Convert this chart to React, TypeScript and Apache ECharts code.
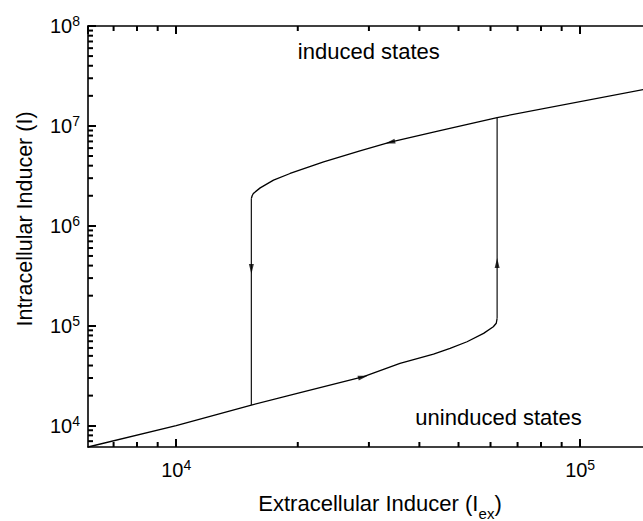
import React, { useEffect, useRef } from "react";
import * as echarts from "echarts";

// Axis extents
const X_MIN = 6050;
const X_MAX = 160000;
const Y_MIN = 6120;
const Y_MAX = 1e8;

// Lower (uninduced) branch: extracellular inducer vs intracellular inducer
const lowerIex = [6050, 10000, 15350, 20277, 29107, 35809, 43351, 47643, 52481, 57677, 60954, 62000, 62300];
const lowerI = [6120, 10000, 16106, 21429, 30903, 42073, 52119, 59429, 69183, 83946, 97724, 106000, 118577];

// Upper (induced) branch
const upperIex = [15350, 15420, 15524, 16144, 17418, 19143, 23174, 28510, 33884, 44978, 62300, 143219, 160000];
const upperI = [1879000, 2000000, 2109000, 2399000, 2864000, 3342000, 4365000, 5623000, 6871000, 8970000, 12130000, 23120000, 25200000];

// Jumps
const jumpDownIex = [15350, 15350];
const jumpDownI = [1879000, 16106];
const jumpUpIex = [62300, 62300];
const jumpUpI = [118577, 12130000];

// Direction arrows: position and rotation (deg)
const arrowIex = [29000, 33870, 15350, 62300];
const arrowI = [30800, 6850000, 369000, 424000];
const arrowRot = [-75.7, 103.7, 180, 0];

// Minor ticks
const xMinorTicks = [7000, 8000, 9000, 20000, 30000, 40000, 50000, 60000, 70000, 80000, 90000];
const yMinorTicks = [
  7000, 8000, 9000,
  20000, 30000, 40000, 50000, 60000, 70000, 80000, 90000,
  200000, 300000, 400000, 500000, 600000, 700000, 800000, 900000,
  2000000, 3000000, 4000000, 5000000, 6000000, 7000000, 8000000, 9000000,
  20000000, 30000000, 40000000, 50000000, 60000000, 70000000, 80000000, 90000000,
];

const FONT = "Liberation Sans, Arial, sans-serif";

function zip(a: number[], b: number[]) {
  return a.map((v, i) => [v, b[i]]);
}

function isPow10(v: number) {
  const l = Math.log10(v);
  return Math.abs(l - Math.round(l)) < 1e-6;
}

const supLabel = (v: number) => (isPow10(v) ? "10{sup|" + Math.round(Math.log10(v)) + "}" : "");

const labelRich = {
  sup: { fontSize: 14, lineHeight: 14, verticalAlign: "top", fontFamily: FONT, color: "#000" },
};

const textGraphics = [
  {
    type: "text",
    x: 368.8,
    y: 51.7,
    style: { text: "induced states", fontSize: 22, fontFamily: FONT, fill: "#000", align: "center", verticalAlign: "middle" },
  },
  {
    type: "text",
    x: 498.5,
    y: 417.4,
    style: { text: "uninduced states", fontSize: 22, fontFamily: FONT, fill: "#000", align: "center", verticalAlign: "middle" },
  },
  {
    type: "text",
    x: 258.3,
    y: 503,
    style: { text: "Extracellular Inducer (I", fontSize: 22, fontFamily: FONT, fill: "#000", align: "left", verticalAlign: "middle" },
  },
  {
    type: "text",
    x: 478.6,
    y: 513.5,
    style: { text: "ex", fontSize: 15, fontFamily: FONT, fill: "#000", align: "left", verticalAlign: "middle" },
  },
  {
    type: "text",
    x: 494.5,
    y: 503,
    style: { text: ")", fontSize: 22, fontFamily: FONT, fill: "#000", align: "left", verticalAlign: "middle" },
  },
  {
    type: "text",
    x: 24.8,
    y: 219,
    rotation: Math.PI / 2,
    style: { text: "Intracellular Inducer (I)", fontSize: 21.5, fontFamily: FONT, fill: "#000", align: "center", verticalAlign: "middle" },
  },
];

export default function App() {
  const ref = useRef<HTMLDivElement>(null);
  useEffect(() => {
    if (!ref.current) return;
    const chart = echarts.init(ref.current, null, { renderer: "svg" });
    const lineStyle = { color: "#000", width: 1.3 };
    const tickLine = { color: "#000", width: 2 };
    chart.setOption({
      animation: false,
      grid: { left: 88, top: 26, width: 574.6, height: 421, containLabel: false, outerBoundsMode: "none" },
      xAxis: [
        {
          type: "log",
          position: "bottom",
          min: X_MIN,
          max: X_MAX,
          axisLine: { show: true, lineStyle: { color: "#000", width: 1.6 } },
          axisTick: { show: true, inside: true, length: 8, lineStyle: tickLine },
          splitLine: { show: false },
          axisLabel: {
            show: true,
            margin: 11,
            formatter: supLabel,
            fontSize: 20,
            lineHeight: 24,
            fontFamily: FONT,
            color: "#000",
            rich: labelRich,
            showMinLabel: false,
            showMaxLabel: false,
          },
        },
        {
          type: "log",
          position: "top",
          min: X_MIN,
          max: X_MAX,
          axisLine: { show: true, lineStyle: { color: "#000", width: 1.6 } },
          axisTick: { show: true, inside: true, length: 8, lineStyle: tickLine },
          splitLine: { show: false },
          axisLabel: { show: false },
        },
      ],
      yAxis: [
        {
          type: "log",
          position: "left",
          min: Y_MIN,
          max: Y_MAX,
          axisLine: { show: true, lineStyle: { color: "#000", width: 1.6 } },
          axisTick: { show: true, inside: true, length: 8, lineStyle: tickLine },
          splitLine: { show: false },
          axisLabel: {
            show: true,
            margin: 8,
            formatter: supLabel,
            fontSize: 20,
            lineHeight: 24,
            fontFamily: FONT,
            color: "#000",
            rich: labelRich,
            showMinLabel: false,
          },
        },
      ],
      series: [
        { type: "line", data: zip(lowerIex, lowerI), showSymbol: false, lineStyle, z: 3 },
        { type: "line", data: zip(upperIex, upperI), showSymbol: false, lineStyle, z: 3 },
        { type: "line", data: zip(jumpDownIex, jumpDownI), showSymbol: false, lineStyle: { color: "#111", width: 1.2 }, z: 3 },
        { type: "line", data: zip(jumpUpIex, jumpUpI), showSymbol: false, lineStyle: { color: "#111", width: 1.2 }, z: 3 },
        {
          type: "scatter",
          data: arrowIex.map((v, i) => ({ value: [v, arrowI[i]], symbolRotate: arrowRot[i] })),
          symbol: "triangle",
          symbolSize: [5, 10],
          itemStyle: { color: "#000" },
          z: 4,
        },
        {
          type: "custom",
          data: xMinorTicks.map((v) => [v, Y_MIN]),
          renderItem: (params: any, api: any) => {
            const v = api.value(0);
            const pb = api.coord([v, Y_MIN]);
            const pt = api.coord([v, Y_MAX]);
            return {
              type: "group",
              children: [
                { type: "line", shape: { x1: pb[0], y1: pb[1], x2: pb[0], y2: pb[1] - 5 }, style: { stroke: "#000", lineWidth: 2 } },
                { type: "line", shape: { x1: pt[0], y1: pt[1], x2: pt[0], y2: pt[1] + 5 }, style: { stroke: "#000", lineWidth: 2 } },
              ],
            };
          },
          z: 5,
        },
        {
          type: "custom",
          data: yMinorTicks.map((v) => [X_MIN, v]),
          renderItem: (params: any, api: any) => {
            const p = api.coord([X_MIN, api.value(1)]);
            return { type: "line", shape: { x1: p[0], y1: p[1], x2: p[0] + 5, y2: p[1] }, style: { stroke: "#000", lineWidth: 2 } };
          },
          z: 5,
        },
      ],
      graphic: textGraphics,
    });
    return () => chart.dispose();
  }, []);
  return (
    <div
      ref={ref}
      style={{ position: "fixed", left: 0, top: 0, width: 643, height: 521, background: "#fff" }}
    />
  );
}
